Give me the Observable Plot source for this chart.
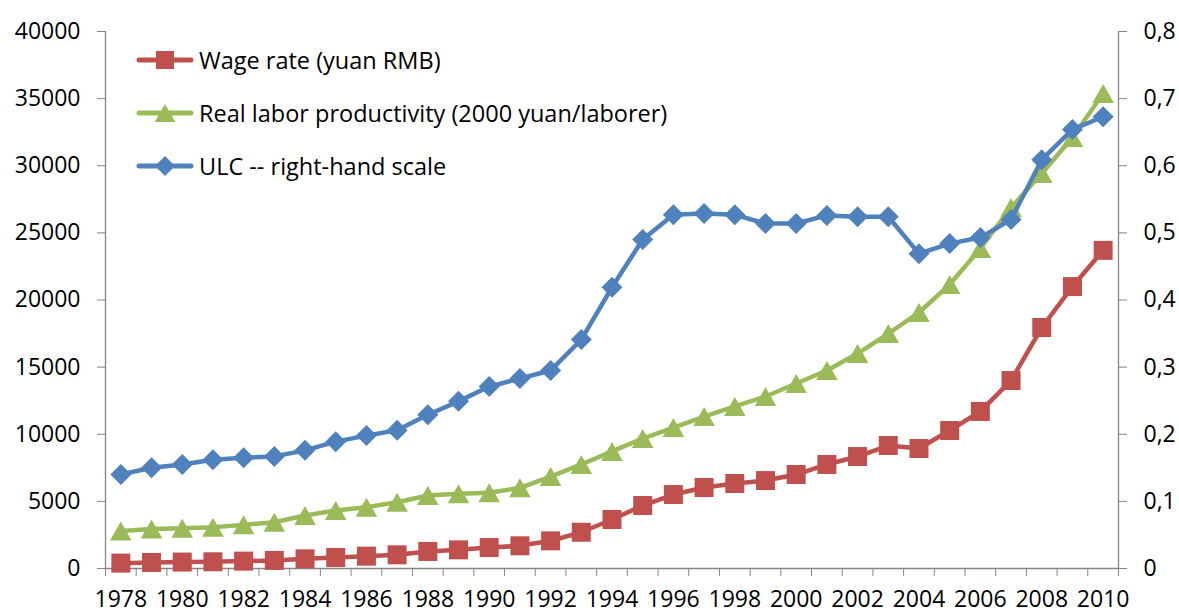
<!DOCTYPE html>
<html><head><meta charset="utf-8">
<script src="https://cdn.jsdelivr.net/npm/d3@7"></script>
<script src="https://cdn.jsdelivr.net/npm/@observablehq/plot@0.6"></script>
<style>
body{margin:0;background:#fff;}
#wrap{position:relative;width:1179px;height:612px;font-family:"Open Sans",sans-serif;}
.item{position:absolute;left:135px;height:30px;display:flex;align-items:center;font-size:23.5px;color:#000;white-space:nowrap;}
.item svg{margin-right:4px;}
#wrap g[aria-label$="tick"]{stroke:#868686;}
</style></head><body><div id="wrap"></div>
<script>
const years = [1978,1979,1980,1981,1982,1983,1984,1985,1986,1987,1988,1989,1990,1991,1992,1993,1994,1995,1996,1997,1998,1999,2000,2001,2002,2003,2004,2005,2006,2007,2008,2009,2010];
const wage = [400,450,480,500,550,600,720,820,920,1020,1270,1390,1560,1690,2060,2700,3650,4690,5510,6030,6330,6550,7000,7750,8340,9160,8940,10280,11700,14000,17950,21000,23700];
const productivity = [2800,2950,3000,3080,3250,3450,3950,4320,4570,4940,5440,5560,5640,6010,6850,7750,8720,9680,10500,11320,12070,12810,13780,14750,16010,17500,19070,21150,23840,26890,29420,32100,35380];
const ulc = [0.140,0.150,0.155,0.162,0.165,0.167,0.176,0.189,0.198,0.206,0.229,0.249,0.271,0.283,0.295,0.341,0.419,0.490,0.527,0.529,0.527,0.514,0.514,0.526,0.524,0.524,0.469,0.484,0.493,0.520,0.609,0.654,0.673];
const seriesNames = ["Wage rate (yuan RMB)","Real labor productivity (2000 yuan/laborer)","ULC -- right-hand scale"];
const seriesColors = ["#C0504D","#9BBB59","#4F81BD"];
const leftTicks = [0,5000,10000,15000,20000,25000,30000,35000,40000];
const rightTickLabels = ["0","0,1","0,2","0,3","0,4","0,5","0,6","0,7","0,8"];
const xLabelYears = [1978,1980,1982,1984,1986,1988,1990,1992,1994,1996,1998,2000,2002,2004,2006,2008,2010];

const rightMax = 0.8, leftMax = 40000, k = leftMax / rightMax;
const xDomain = [years[0] - 0.5, years[years.length - 1] + 0.5];
const edges = years.map(y => y - 0.5).concat([xDomain[1]]);

// symbols: r given -> half extent
const half = size => Math.sqrt(size / Math.PI);
const squareSym = {draw(c, size){ const h = half(size); c.moveTo(-h,-h); c.lineTo(h,-h); c.lineTo(h,h); c.lineTo(-h,h); c.closePath(); }};
const triSym = {draw(c, size){ const h = half(size); const t = h * 0.88; c.moveTo(0,-t); c.lineTo(h,t); c.lineTo(-h,t); c.closePath(); }};
const diaSym = {draw(c, size){ const h = half(size); c.moveTo(0,-h); c.lineTo(h,0); c.lineTo(0,h); c.lineTo(-h,0); c.closePath(); }};
const symbols = [squareSym, triSym, diaSym];
const radii = [9.5, 10.8, 10.5];

const rows = [
  years.map((x,i) => ({x, y: wage[i]})),
  years.map((x,i) => ({x, y: productivity[i]})),
  years.map((x,i) => ({x, y: ulc[i] * k}))
];

const seriesMarks = rows.flatMap((data, s) => [
  Plot.line(data, {x: "x", y: "y", stroke: seriesColors[s], strokeWidth: 4.5, strokeLinejoin: "round", strokeLinecap: "round"}),
  Plot.dot(data, {x: "x", y: "y", fill: seriesColors[s], stroke: "none", symbol: symbols[s], r: radii[s]})
]);

const chart = Plot.plot({
  width: 1179, height: 612,
  marginLeft: 105, marginRight: 61, marginTop: 31, marginBottom: 44,
  style: {fontFamily: "'Open Sans', sans-serif", fontSize: "23px", color: "#000", background: "#fff", overflow: "visible"},
  x: {domain: xDomain},
  y: {domain: [0, leftMax]},
  marks: [
    Plot.ruleY([0], {stroke: "#868686", strokeWidth: 1.3}),
    Plot.ruleX(xDomain, {stroke: "#868686", strokeWidth: 1.3}),
    Plot.axisY({ticks: leftTicks, tickSize: 8, tickPadding: 17, tickFormat: d => String(d), label: null}),
    Plot.axisY({anchor: "right", ticks: leftTicks, tickSize: 8, tickPadding: 17, tickFormat: d => rightTickLabels[leftTicks.indexOf(d)], label: null}),
    Plot.axisX({ticks: edges, tickSize: 8, tickFormat: () => "", label: null}),
    Plot.axisX({ticks: xLabelYears, tickSize: 0, tickPadding: 22, tickFormat: d => String(d), label: null}),
    ...seriesMarks
  ]
});
const wrap = document.getElementById("wrap");
wrap.appendChild(chart);

// legend
const legendCenters = [60, 113, 166];
seriesNames.forEach((name, s) => {
  const div = document.createElement("div");
  div.className = "item";
  div.style.top = (legendCenters[s] - 15) + "px";
  const svg = d3.create("svg").attr("width", 60).attr("height", 30);
  svg.append("line").attr("x1", 4).attr("x2", 56).attr("y1", 15).attr("y2", 15)
    .attr("stroke", seriesColors[s]).attr("stroke-width", 5).attr("stroke-linecap", "round");
  const p = d3.path();
  symbols[s].draw(p, Math.PI * (radii[s] - 0.5) * (radii[s] - 0.5));
  svg.append("path").attr("transform", "translate(30,15)").attr("d", p.toString()).attr("fill", seriesColors[s]);
  div.appendChild(svg.node());
  const span = document.createElement("span");
  span.textContent = name;
  div.appendChild(span);
  wrap.appendChild(div);
});
</script></body></html>
